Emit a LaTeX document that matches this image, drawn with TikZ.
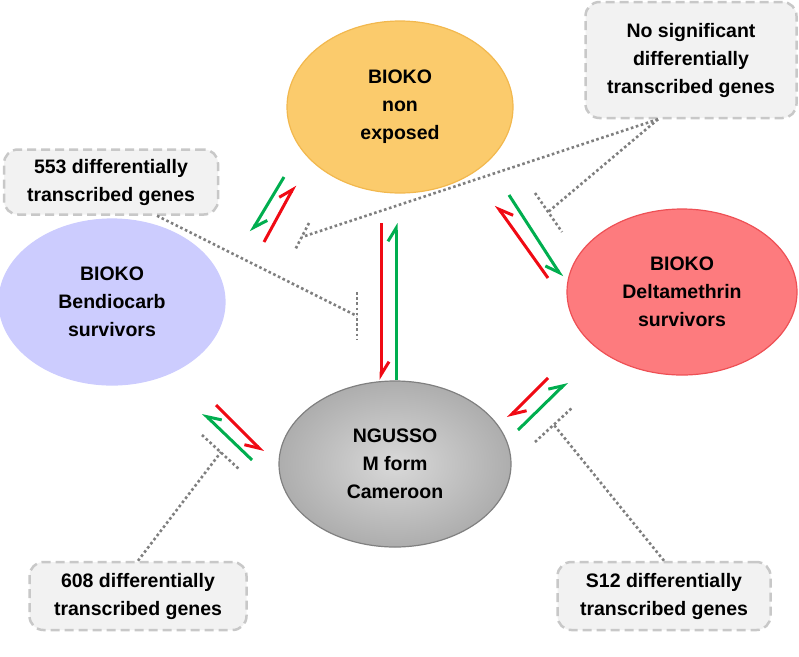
\documentclass[tikz,border=0pt]{standalone}
\usepackage{fontspec}
\setmainfont{Liberation Sans}
\usetikzlibrary{shapes.geometric,arrows.meta}
\definecolor{bioorange}{HTML}{FBCB6C}
\definecolor{bioorangeline}{HTML}{F2B84E}
\definecolor{biolilac}{HTML}{CCCCFE}
\definecolor{biored}{HTML}{FD7B7E}
\definecolor{bioredline}{HTML}{EE5055}
\definecolor{notefill}{HTML}{F2F2F2}
\definecolor{noteline}{HTML}{C8C8C8}
\definecolor{arrred}{HTML}{F00A14}
\definecolor{arrgreen}{HTML}{00AE4F}
\definecolor{dotgray}{HTML}{7F7F7F}
\begin{document}
\begin{tikzpicture}[x=1pt,y=-1pt,
  pop/.style = {ellipse, line width=1.2pt, minimum width=226pt, minimum height=166pt, inner sep=0pt, align=center, font=\fontsize{19.5}{28}\selectfont\bfseries},
  note/.style = {draw=noteline, fill=notefill, line width=2.5pt, dash pattern=on 9pt off 5pt, rounded corners=14pt, inner sep=0pt, align=center, font=\fontsize{19.5}{28}\selectfont\bfseries},
  redharp/.style = {draw=arrred, line width=3pt, -{Straight Barb[harpoon,#1,length=13pt,width=16pt]}},
  greenharp/.style = {draw=arrgreen, line width=3pt, -{Straight Barb[harpoon,#1,length=13pt,width=16pt]}},
  inhib/.style = {draw=dotgray, line width=2.6pt, dash pattern=on 2.6pt off 2.6pt}]
\useasboundingbox (0,0) rectangle (799,656);

\node[pop, draw=bioorangeline, fill=bioorange, minimum height=172pt] (nonexp) at (400,107) {BIOKO\\non\\exposed};
\node[pop, draw=biolilac, fill=biolilac] (bendio) at (112,302) {BIOKO\\Bendiocarb\\survivors};
\node[pop, draw=bioredline, fill=biored, minimum width=230pt] (delta) at (682,292) {BIOKO\\Deltamethrin\\survivors};
\node[pop, draw=gray, shading=radial, inner color=black!15, outer color=black!32, minimum width=232pt] (ngusso) at (395,464) {NGUSSO\\M form\\Cameroon};

\node[note, minimum width=214pt, minimum height=65pt] (n553) at (111,182) {553 differentially\\transcribed genes};
\node[note, minimum width=211pt, minimum height=116pt] (nosig) at (691,60) {No significant\\differentially\\transcribed genes};
\node[note, minimum width=217pt, minimum height=68pt] (n608) at (138,596) {608 differentially\\transcribed genes};
\node[note, minimum width=213pt, minimum height=68pt] (n512) at (664,596) {S12 differentially\\transcribed genes};

\coordinate (g1a) at (284,177); \coordinate (g1b) at (251,232);
\coordinate (r1a) at (264,242); \coordinate (r1b) at (295,185);
\coordinate (r2a) at (381,223); \coordinate (r2b) at (381,380);
\coordinate (g2a) at (396,380); \coordinate (g2b) at (396,223);
\coordinate (r3a) at (548,278); \coordinate (r3b) at (496,205);
\coordinate (g3a) at (509,195); \coordinate (g3b) at (562,277);
\coordinate (r4a) at (216,405); \coordinate (r4b) at (263,452);
\coordinate (g4a) at (252,460); \coordinate (g4b) at (203,413);
\coordinate (r5a) at (548,378); \coordinate (r5b) at (508,418);
\coordinate (g5a) at (518,430); \coordinate (g5b) at (567,382);

\draw[greenharp=] (g1a) -- (g1b);
\draw[redharp=] (r1a) -- (r1b);
\draw[redharp=] (r2a) -- (r2b);
\draw[greenharp=] (g2a) -- (g2b);
\draw[redharp=swap] (r3a) -- (r3b);
\draw[greenharp=swap] (g3a) -- (g3b);
\draw[redharp=swap] (r4a) -- (r4b);
\draw[greenharp=swap] (g4a) -- (g4b);
\draw[redharp=] (r5a) -- (r5b);
\draw[greenharp=] (g5a) -- (g5b);

\coordinate (t1) at (357,316); \coordinate (t1a) at (357,292); \coordinate (t1b) at (357,340);
\coordinate (t2) at (302,237); \coordinate (t2a) at (309,223); \coordinate (t2b) at (295,250);
\coordinate (t3) at (548,212); \coordinate (t3a) at (535,193); \coordinate (t3b) at (562,232);
\coordinate (t4) at (221,452); \coordinate (t4a) at (202,435); \coordinate (t4b) at (240,470);
\coordinate (t5) at (554,425); \coordinate (t5a) at (535,442); \coordinate (t5b) at (573,407);

\draw[inhib] ([xshift=46pt]n553.south) -- (t1);
\draw[inhib] (t1a) -- (t1b);
\draw[inhib] ([xshift=-33pt]nosig.south) -- (t2);
\draw[inhib] (t2a) -- (t2b);
\draw[inhib] ([xshift=-33pt]nosig.south) -- (t3);
\draw[inhib] (t3a) -- (t3b);
\draw[inhib] (n608.north) -- (t4);
\draw[inhib] (t4a) -- (t4b);
\draw[inhib] (n512.north) -- (t5);
\draw[inhib] (t5a) -- (t5b);
\end{tikzpicture}
\end{document}
